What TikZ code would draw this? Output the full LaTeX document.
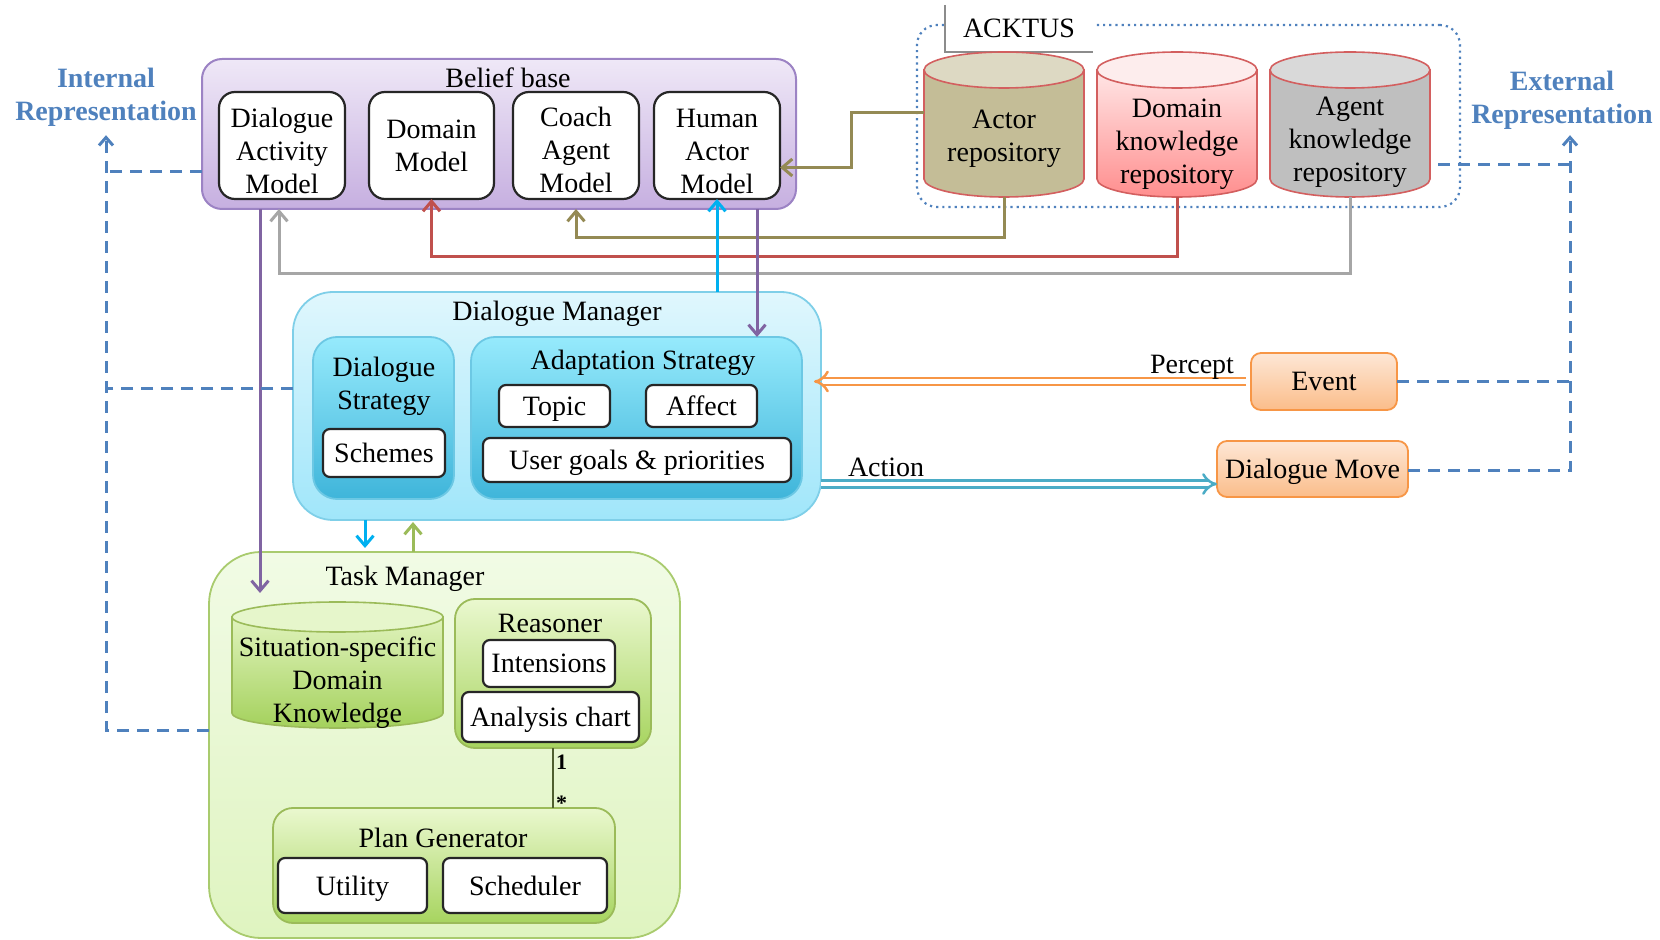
\documentclass[tikz,border=0pt]{standalone}
\usepackage{fontspec}
\setmainfont{Liberation Serif}
\usetikzlibrary{arrows.meta}
\definecolor{bbtop}{HTML}{EFE8F7}
\definecolor{bbbot}{HTML}{C6AFE0}
\definecolor{bbdraw}{HTML}{9C83C4}
\definecolor{dmtop}{HTML}{E0F7FD}
\definecolor{dmbot}{HTML}{A0E6FA}
\definecolor{dmdraw}{HTML}{7FCFE8}
\definecolor{dstop}{HTML}{96EAFC}
\definecolor{dsbot}{HTML}{3FB5DA}
\definecolor{dsdraw}{HTML}{6CC8E4}
\definecolor{tmtop}{HTML}{F1FBE5}
\definecolor{tmbot}{HTML}{DFF4C0}
\definecolor{tmdraw}{HTML}{A9CB6E}
\definecolor{rstop}{HTML}{EAF8CF}
\definecolor{rsbot}{HTML}{A7D45F}
\definecolor{rsdraw}{HTML}{9BBB59}
\definecolor{evtop}{HTML}{FDE7D6}
\definecolor{evbot}{HTML}{FBBD8A}
\definecolor{evdraw}{HTML}{F79646}
\definecolor{arolive}{HTML}{948A54}
\definecolor{arred}{HTML}{C0504D}
\definecolor{argray}{HTML}{A6A6A6}
\definecolor{arpurple}{HTML}{8064A2}
\definecolor{arcyan}{HTML}{00B0F0}
\definecolor{argreen}{HTML}{9BBB59}
\definecolor{arlink}{HTML}{4F5F2F}
\definecolor{dblue}{HTML}{4F81BD}
\definecolor{cActorBody}{HTML}{C4BD97}
\definecolor{cActorTop}{HTML}{DDD9C3}
\definecolor{cDkrTopBody}{HTML}{FFE6E6}
\definecolor{cDkrBotBody}{HTML}{FF8E8E}
\definecolor{cDkrTop}{HTML}{FDEDED}
\definecolor{cAkrBody}{HTML}{BFBFBF}
\definecolor{cAkrTop}{HTML}{D9D9D9}
\definecolor{cSitTopBody}{HTML}{E0F3BD}
\definecolor{cSitBotBody}{HTML}{A4D15C}
\definecolor{cSitTop}{HTML}{E6F6CB}
\definecolor{cCylRed}{HTML}{D35F5F}
\definecolor{cPercept}{HTML}{F79646}
\definecolor{cAction}{HTML}{4BACC6}

\newcommand\mybox[7]{\node[#6, minimum width={(#4-#2)*0.5pt}, minimum height={(#5-#3)*0.5pt}] (#1) at ({(#2+#4)/2},{-(#3+#5)/2}) {#7};}
\newcommand\mycyl[9]{%
  \path[#7body] (#2,{-(#4+#6)}) -- (#2,{-(#5-#6)}) arc[start angle=180,end angle=360,x radius={(#3-#2)*0.25pt},y radius={#6*0.5pt}] -- (#3,{-(#4+#6)}) -- cycle;
  \path[#7top] ({(#2+#3)/2},{-(#4+#6)}) ellipse [x radius={(#3-#2)*0.25pt},y radius={#6*0.5pt}];
  \node[minimum width={(#3-#2)*0.5pt},minimum height={(#5-#4)*0.5pt},inner sep=0pt,outer sep=0pt] (#1) at ({(#2+#3)/2},{-(#4+#5)/2}) {};
  \node[cyltext] (#1-t) at ({(#2+#3)/2},{-#8}) {#9};
}

\tikzset{
  every node/.style={font=\fontsize{14}{16.5}\selectfont, inner sep=0pt, outer sep=0pt},
  bbox/.style={rounded corners=10pt, top color=bbtop, bottom color=bbbot, draw=bbdraw, line width=1pt},
  wbox/.style={rounded corners=8pt, fill=white, draw=black!85, line width=1.1pt},
  sbox/.style={rounded corners=3.5pt, fill=white, draw=black!85, line width=1.1pt, align=center, text depth=0pt},
  dmbox/.style={rounded corners=20pt, top color=dmtop, bottom color=dmbot, draw=dmdraw, line width=0.9pt},
  dsbox/.style={rounded corners=12pt, top color=dstop, bottom color=dsbot, draw=dsdraw, line width=0.9pt},
  tmbox/.style={rounded corners=26pt, top color=tmtop, bottom color=tmbot, draw=tmdraw, line width=0.9pt},
  rsbox/.style={rounded corners=10pt, top color=rstop, bottom color=rsbot, draw=rsdraw, line width=0.9pt},
  evbox/.style={rounded corners=5pt, top color=evtop, bottom color=evbot, draw=evdraw, line width=0.9pt, text depth=0pt},
  dotbox/.style={rounded corners=10pt, draw=dblue, dotted, line width=1.1pt},
  cyltext/.style={align=center},
  actorcylbody/.style={fill=cActorBody, draw=cCylRed, line width=0.8pt},
  actorcyltop/.style={fill=cActorTop, draw=cCylRed, line width=0.8pt},
  dkrcylbody/.style={top color=cDkrTopBody, bottom color=cDkrBotBody, draw=cCylRed, line width=0.8pt},
  dkrcyltop/.style={fill=cDkrTop, draw=cCylRed, line width=0.8pt},
  akrcylbody/.style={fill=cAkrBody, draw=cCylRed, line width=0.8pt},
  akrcyltop/.style={fill=cAkrTop, draw=cCylRed, line width=0.8pt},
  sitcylbody/.style={top color=cSitTopBody, bottom color=cSitBotBody, draw=rsdraw, line width=0.8pt},
  sitcyltop/.style={fill=cSitTop, draw=rsdraw, line width=0.8pt},
  conn/.style={line width=1.5pt, -{Straight Barb[length=5pt,width=8.5pt]}},
  dashconn/.style={draw=dblue, line width=1.5pt, dash pattern=on 6pt off 4pt},
  dasharrow/.style={dashconn, -{Straight Barb[length=4pt,width=7pt]}},
  dblarrow/.style={line width=1.25pt, double=white, double distance=2.4pt, -{Implies}},
  reptext/.style={font=\bfseries\fontsize{14}{16.5}\selectfont, text=dblue, align=center},
}

\begin{document}
\begin{tikzpicture}[x=0.5pt,y=0.5pt]
\useasboundingbox (0,0) rectangle (1660,-940);

% ---------------- Belief base ----------------
\mybox{bb}{202}{59}{796}{209}{bbox}{}
\node (bbtitle) at (508,-78) {Belief base};
\mybox{dam}{219}{92}{345}{199}{wbox}{}
\mybox{dom}{369}{92}{494}{199}{wbox}{}
\mybox{coach}{513}{92}{639}{199}{wbox}{}
\mybox{ham}{654}{92}{780}{199}{wbox}{}
\node[align=center] (dam-t) at ([yshift=-2.6pt]dam.center) {Dialogue\\Activity\\Model};
\node[align=center] (dom-t) at (dom.center) {Domain\\Model};
\node[align=center] (coach-t) at ([yshift=-2pt]coach.center) {Coach\\Agent\\Model};
\node[align=center] (ham-t) at ([yshift=-3pt]ham.center) {Human\\Actor\\Model};

% ---------------- ACKTUS ----------------
\mybox{acktusbox}{917}{25}{1460}{207}{dotbox}{}
\mybox{acktus}{945}{5}{1093}{52}{fill=white}{ACKTUS}
\draw[black!45, line width=0.6pt] (acktus.north west) -- (acktus.south west) -- (acktus.south east);
\mycyl{actor}{924}{1084}{52}{197}{18}{actorcyl}{139}{Actor\\repository}
\mycyl{dkr}{1097}{1257}{52}{197}{18}{dkrcyl}{144}{Domain\\knowledge\\repository}
\mycyl{akr}{1270}{1430}{52}{197}{18}{akrcyl}{142}{Agent\\knowledge\\repository}

% ---------------- Representations ----------------
\node[reptext] (inttext) at (106,-97) {Internal\\Representation};
\node[reptext] (exttext) at (1562,-100) {External\\Representation};
\coordinate (intv) at ([yshift=-4.5pt]inttext.south);
\coordinate (extv) at ([xshift=4pt,yshift=-3pt]exttext.south);

% ---------------- Dialogue Manager ----------------
\mybox{dm}{293}{292}{821}{520}{dmbox}{}
\node (dmtitle) at (557,-314) {Dialogue Manager};
\mybox{ds}{313}{337}{454}{499}{dsbox}{}
\node[align=center] (dstitle) at (384,-386) {Dialogue\\Strategy};
\mybox{schemes}{323}{429}{445}{477}{sbox}{Schemes}
\mybox{adapt}{471}{337}{802}{499}{dsbox}{}
\node (adtitle) at (643,-363) {Adaptation Strategy};
\mybox{topic}{499}{385}{610}{427}{sbox}{Topic}
\mybox{affect}{646}{385}{757}{427}{sbox}{Affect}
\mybox{ugp}{483}{438}{791}{482}{sbox}{User goals \& priorities}

% ---------------- Event / Dialogue Move ----------------
\mybox{event}{1251}{353}{1397}{410}{evbox}{Event}
\mybox{dmove}{1217}{441}{1408}{497}{evbox}{Dialogue Move}

% ---------------- Task Manager ----------------
\mybox{tm}{209}{552}{680}{938}{tmbox}{}
\node (tmtitle) at (405,-579) {Task Manager};
\mycyl{ssdk}{232}{443}{602}{728}{15}{sitcyl}{683}{Situation-specific\\Domain\\Knowledge}
\mybox{reasoner}{455}{599}{651}{748}{rsbox}{}
\node (rstitle) at (550,-623) {Reasoner};
\mybox{intens}{483}{640}{615}{687}{sbox}{Intensions}
\mybox{chart}{462}{692}{639}{742}{sbox}{Analysis chart}
\mybox{plan}{273}{808}{615}{923}{rsbox}{}
\node (pgtitle) at (443,-838) {Plan Generator};
\mybox{utility}{278}{858}{427}{913}{sbox}{Utility}
\mybox{sched}{443}{858}{607}{913}{sbox}{Scheduler}

% ---------------- Connectors ----------------
\draw[conn, arolive] ([yshift=5.75pt]actor.west) -- ++(-36.5pt,0) |- ([yshift=-11pt]ham.east);
\draw[conn, arolive] (actor.south) -- ++(0,-20.5pt) -| (coach.south |- bb.south);
\draw[conn, arred] (dkr.south) -- ++(0,-30pt) -| (dom.south);
\draw[conn, argray] (akr.south) -- ++(0,-38.5pt) -| ([xshift=-1.5pt]dam.south |- bb.south);
\draw[conn, arpurple, shorten >=4.5pt] ([xshift=-11pt]dam.south |- bb.south) -- ([xshift=-11pt]dam.south |- ssdk.north);
\draw[conn, arpurple] ([xshift=20pt]ham.south |- bb.south) -- ([xshift=20pt]ham.south |- adapt.north);
\draw[conn, arcyan] (ham.south |- dm.north) -- (ham.south);
\draw[conn, arcyan, shorten >=2pt] ([xshift=-9.25pt]ds.south |- dm.south) -- ([xshift=-9.25pt]ds.south |- tm.north);
\draw[conn, argreen, shorten >=1pt] ([xshift=14.75pt]ds.south |- tm.north) -- ([xshift=14.75pt]ds.south |- dm.south);
\draw[arlink, line width=1.2pt] (reasoner.south) -- (reasoner.south |- plan.north);
\node[font=\bfseries\fontsize{11}{12}\selectfont, anchor=west] (one) at (556,-762) {1};
\node[font=\bfseries\fontsize{11}{12}\selectfont, anchor=west] (star) at (556,-803) {*};

\draw[dblarrow, draw=cPercept, shorten <=2.5pt, shorten >=-3.5pt] (event.west) -- (event.west -| dm.east);
\node[anchor=east] (percept) at ([xshift=-8.5pt,yshift=7.25pt]event.west) {Percept};
\draw[dblarrow, draw=cAction] ([yshift=-7.5pt]dmove.west -| dm.east) -- ([yshift=-7.5pt]dmove.west);
\node[anchor=west] (action) at ([xshift=13.5pt,yshift=1pt]dmove.west -| dm.east) {Action};

% dashed representation links
\draw[dasharrow] ([yshift=7.5pt]tm.west) -| (intv);
\draw[dashconn] ([yshift=-19pt]bb.west) -- ([yshift=-19pt]bb.west -| intv);
\draw[dashconn] ([yshift=8.5pt]dm.west) -- ([yshift=8.5pt]dm.west -| intv);
\draw[dasharrow] ([yshift=-1pt]dmove.east) -| (extv);
\draw[dashconn] (event.east) -- (event.east -| extv);
\draw[dashconn, shorten <=4pt] ([yshift=-20pt]akr.east) -- ([yshift=-20pt]akr.east -| extv);
\end{tikzpicture}
\end{document}
